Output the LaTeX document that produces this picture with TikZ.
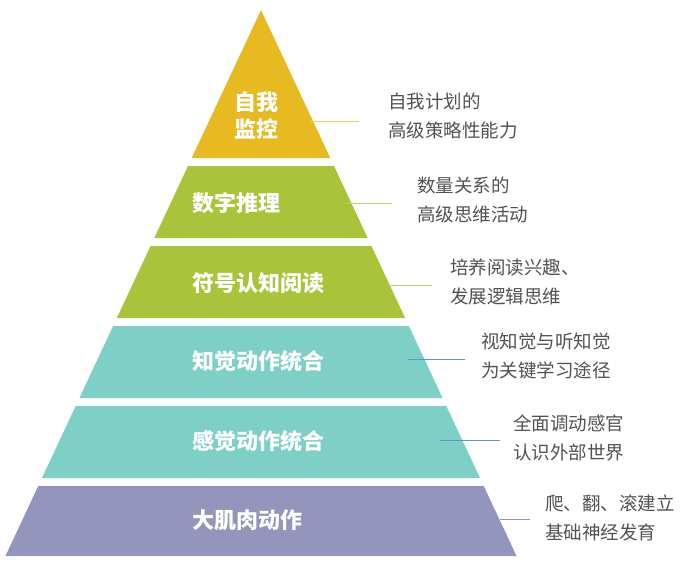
\documentclass[tikz,border=0pt]{standalone}
\usepackage{fontspec}
\setmainfont{Noto Sans CJK SC}
\begin{document}
\begin{tikzpicture}[x=1pt,y=-1pt,
  lbl/.style={text=white,font=\fontsize{22}{28}\selectfont\bfseries,anchor=west,inner sep=0},
  desc/.style={text=black!68,font=\fontsize{18.5}{29}\selectfont,anchor=west,align=left,inner sep=0},
  lead/.style={line width=0.8pt}]
\definecolor{cgold}{HTML}{E6BA20}
\definecolor{cgreen}{HTML}{A9C43A}
\definecolor{cteal}{HTML}{7ECFC6}
\definecolor{cpurp}{HTML}{9395BD}
\useasboundingbox (0,0) rectangle (691,586);
\def\cx{261}\def\k{0.468}
\newcommand\layer[3]{%
  \pgfmathsetmacro\ha{(#1-10)*\k}\pgfmathsetmacro\hb{(#2-10)*\k}%
  \fill[#3] (\cx-\ha,#1) -- (\cx+\ha,#1) -- (\cx+\hb,#2) -- (\cx-\hb,#2) -- cycle;}
\fill[cgold] (\cx,10) -- (\cx+69.3,158) -- (\cx-69.3,158) -- cycle;
\layer{166}{238}{cgreen}
\layer{246}{318}{cgreen}
\layer{326}{398}{cteal}
\layer{406}{478}{cteal}
\layer{486}{556}{cpurp}
\node[lbl,anchor=center,align=center,font=\fontsize{22}{27}\selectfont\bfseries] (l1) at (256,115) {自我\\监控};
\node[lbl] (l2) at (192,203) {数字推理};
\node[lbl] (l3) at (192,283) {符号认知阅读};
\node[lbl] (l4) at (192,361) {知觉动作统合};
\node[lbl] (l5) at (192,441) {感觉动作统合};
\node[lbl] (l6) at (192,520) {大肌肉动作};
\node[desc] (d1) at (388,116) {自我计划的\\高级策略性能力};
\node[desc] (d2) at (417,200) {数量关系的\\高级思维活动};
\node[desc] (d3) at (450,282) {培养阅读兴趣、\\发展逻辑思维};
\node[desc] (d4) at (481,356) {视知觉与听知觉\\为关键学习途径};
\node[desc] (d5) at (513,438) {全面调动感官\\认识外部世界};
\node[desc] (d6) at (545,518) {爬、翻、滚建立\\基础神经发育};
\coordinate (a1) at (310,121); \coordinate (b1) at (359,121);
\coordinate (a2) at (345,203); \coordinate (b2) at (392,203);
\coordinate (a3) at (388,285); \coordinate (b3) at (432,285);
\coordinate (a4) at (408,359); \coordinate (b4) at (465,359);
\coordinate (a5) at (440,440); \coordinate (b5) at (500,440);
\coordinate (a6) at (500,519); \coordinate (b6) at (530,519);
\draw[lead,cgold!70] (a1) -- (b1);
\draw[lead,cgreen!80] (a2) -- (b2);
\draw[lead,cgreen!80] (a3) -- (b3);
\draw[lead,cyan!60!blue!70] (a4) -- (b4);
\draw[lead,cyan!60!blue!70] (a5) -- (b5);
\draw[lead,cpurp] (a6) -- (b6);
\end{tikzpicture}
\end{document}
